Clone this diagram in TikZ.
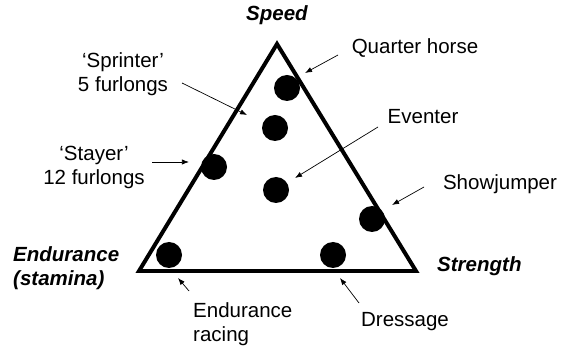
\documentclass[tikz,border=0pt]{standalone}
\usepackage{fontspec}
\setmainfont{Liberation Sans}
\usetikzlibrary{arrows.meta}
\tikzset{
  >={Latex[length=6pt,width=4.5pt]},
  lab/.style={align=center,inner sep=0pt,font=\fontsize{17.5}{20.5}\selectfont},
  vert/.style={lab,font=\fontsize{17.5}{20.5}\selectfont\bfseries\itshape},
  horse/.style={circle,fill=black,inner sep=0pt,minimum size=0.78cm},
  ar/.style={->,line width=0.6pt},
  tri/.style={line width=3.4pt,line join=miter},
}
\begin{document}
\begin{tikzpicture}[x=0.03cm,y=-0.03cm]
\useasboundingbox (0,0) rectangle (567,349);
% triangle
\coordinate (sp) at (277,44);
\coordinate (en) at (139,271);
\coordinate (st) at (416,271);
\draw[tri] (sp) -- (en) -- (st) -- cycle;
% corners
\node[vert]                     (lsp) at (277,15)  {Speed};
\node[vert,anchor=west]         (lst) at (437,266) {Strength};
\node[vert,anchor=west,align=left] (len) at (13,268) {Endurance\\(stamina)};
% horses
\node[horse] (qh)  at (287,88)  {};
\node[horse] (spr) at (275,128) {};
\node[horse] (sty) at (214,167) {};
\node[horse] (evt) at (276,190) {};
\node[horse] (shj) at (372,219) {};
\node[horse] (enr) at (169,255) {};
\node[horse] (drs) at (333,255) {};
% labels
\node[lab] (lqh)  at (415,48)  {Quarter horse};
\node[lab] (levt) at (423,117) {Eventer};
\node[lab] (lspr) at (123,74)  {`Sprinter'\\5 furlongs};
\node[lab] (lsty) at (94,167)  {`Stayer'\\12 furlongs};
\node[lab] (lshj) at (500,184) {Showjumper};
\node[lab,anchor=west,align=left] (lenr) at (193,324) {Endurance\\racing};
\node[lab] (ldrs) at (405,322) {Dressage};
% pointers
\coordinate (qhT)  at (338,55);  \coordinate (qhH)  at (305,73);
\coordinate (evtT) at (378,127); \coordinate (evtH) at (295,178);
\coordinate (sprT) at (182,83);  \coordinate (sprH) at (247,115);
\coordinate (styT) at (152,162); \coordinate (styH) at (189,162);
\coordinate (shjT) at (424,187); \coordinate (shjH) at (392,205);
\coordinate (enrT) at (189,291); \coordinate (enrH) at (178,278);
\coordinate (drsT) at (359,303); \coordinate (drsH) at (340,278);
\draw[ar] (qhT)  -- (qhH);
\draw[ar] (evtT) -- (evtH);
\draw[ar] (sprT) -- (sprH);
\draw[ar] (styT) -- (styH);
\draw[ar] (shjT) -- (shjH);
\draw[ar] (enrT) -- (enrH);
\draw[ar] (drsT) -- (drsH);
\end{tikzpicture}
\end{document}
